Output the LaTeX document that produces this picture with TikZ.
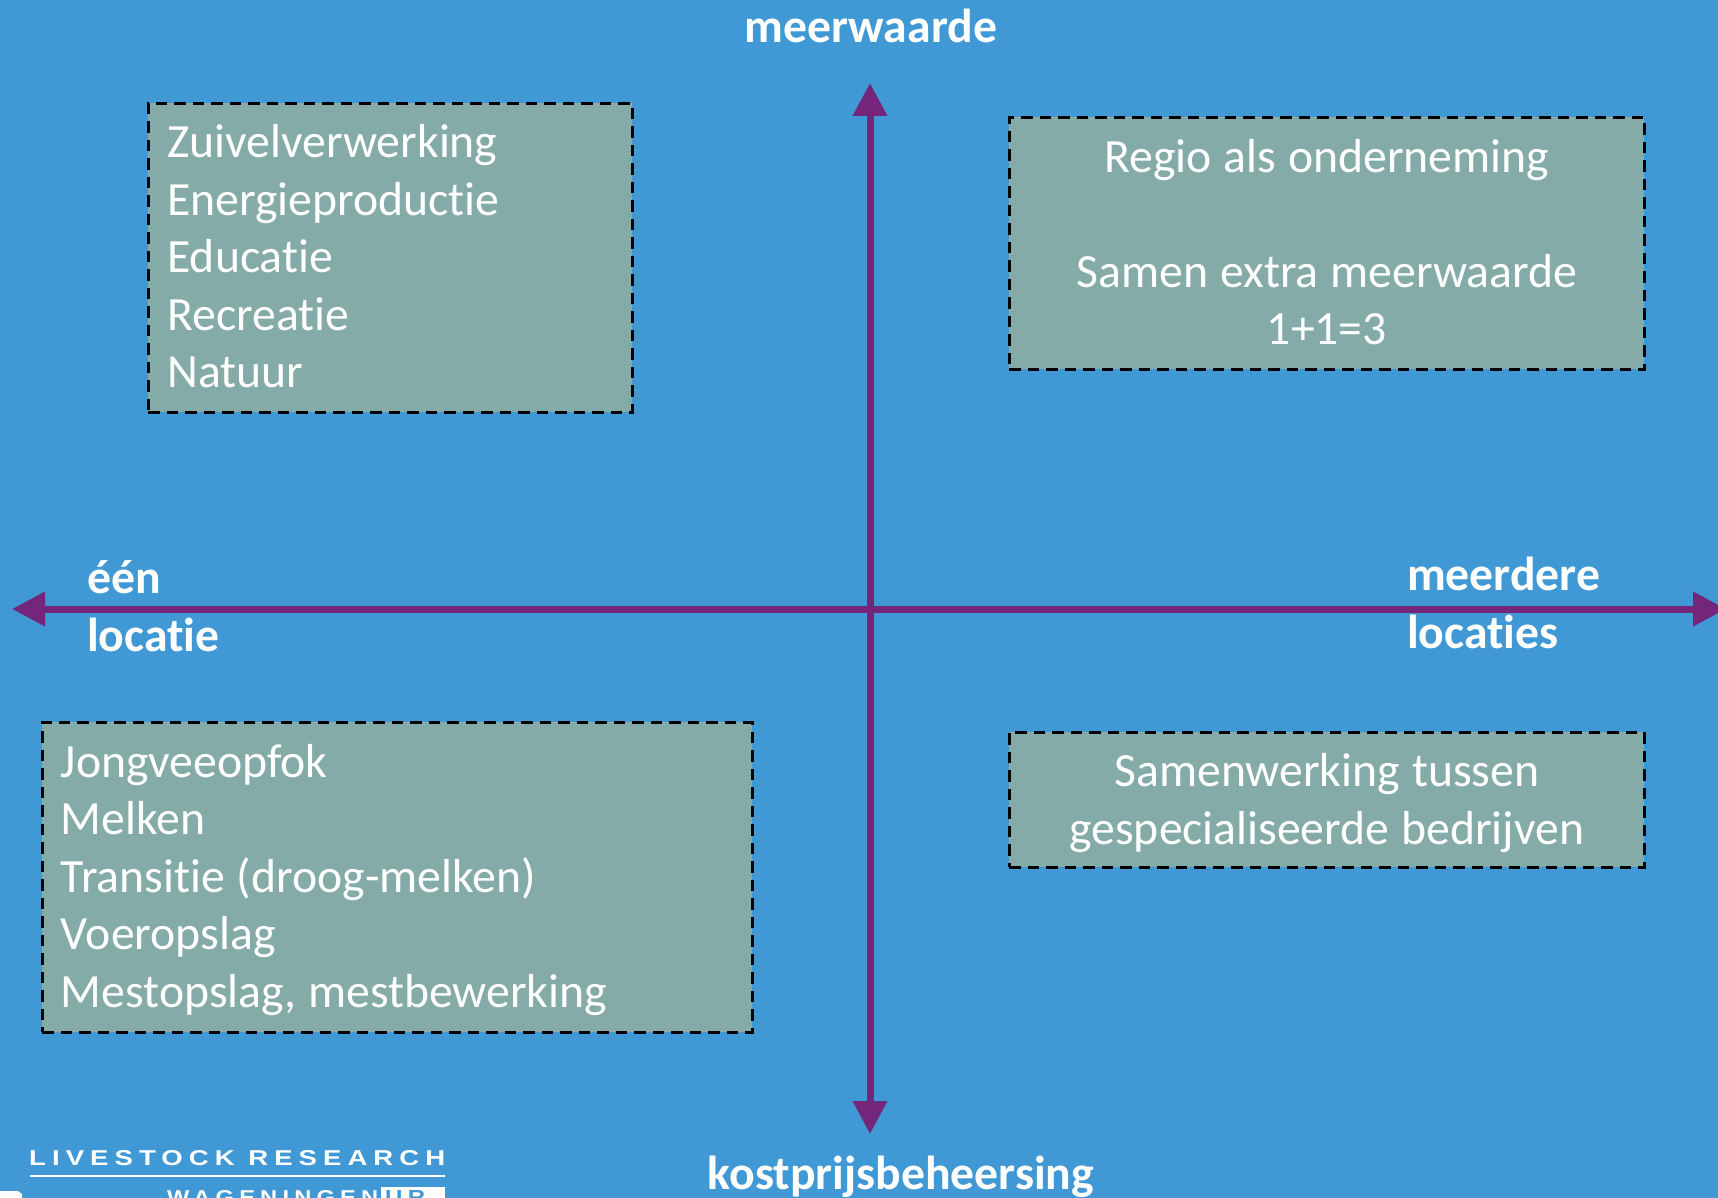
\documentclass[tikz,border=0pt]{standalone}
\usepackage{fontspec}
\setmainfont{Carlito}[Ligatures=NoCommon]
\newfontfamily\logofont[LetterSpace=22]{Liberation Sans Bold}
\usetikzlibrary{arrows.meta}
\definecolor{bgblue}{HTML}{4099D5}
\definecolor{boxgreen}{HTML}{85ABA8}
\definecolor{axispurple}{HTML}{74267A}
\newcommand\topstrut{\rule{0pt}{43.5pt}}
\newcommand\botstrut{\rule[-13.4pt]{0pt}{13.4pt}}
\newcommand\tightspaces{\setlength{\spaceskip}{12pt}}
\tikzset{
  quadbox/.style={draw=black,fill=boxgreen,line width=2.7pt,dash pattern=on 11.5pt off 7pt,
    text=white,font=\fontsize{47.7}{57.5}\selectfont,inner sep=0pt,anchor=north west},
  axisline/.style={draw=axispurple,line width=7pt,-{Triangle[width=33pt,length=33pt,fill=axispurple]}},
  axislabel/.style={text=white,font=\fontsize{47.7}{57.5}\selectfont\bfseries,inner sep=0pt},
  logolabel/.style={anchor=base west,inner sep=0pt,text=white},
}
\begin{document}
\begin{tikzpicture}[x=1pt,y=-1pt]
\useasboundingbox (0,0) rectangle (1718,1198);
\clip (0,0) rectangle (1718,1198);
\fill[bgblue] (0,0) rectangle (1718,1198);
% axes
\coordinate (centre) at (870,609);
\coordinate (top) at (870,83);
\coordinate (bottom) at (870,1134);
\coordinate (left) at (12,609);
\coordinate (right) at (1726,609);
\draw[axisline] (centre) -- (top);
\draw[axisline] (centre) -- (bottom);
\draw[axisline] (centre) -- (left);
\draw[axisline] (centre) -- (right);
% boxes
\node[quadbox,minimum width=484pt,minimum height=309pt,text width=446pt,align=left] (zuivel) at (147,102)
  {\topstrut Zuivelverwerking\\Energieproductie\\Educatie\\Recreatie\\Natuur\botstrut};
\node[quadbox,minimum width=635pt,minimum height=252pt,text width=635pt,align=center] (regio) at (1008,116)
  {\tightspaces\topstrut Regio als onderneming\\[57.5pt]Samen extra meerwaarde\\1+1=3\botstrut};
\node[quadbox,minimum width=710pt,minimum height=310pt,text width=673pt,align=left] (jongvee) at (41,721)
  {\tightspaces\topstrut Jongveeopfok\\Melken\\Transitie (droog-melken)\\Voeropslag\\Mestopslag, mestbewerking\botstrut};
\node[quadbox,minimum width=635pt,minimum height=135pt,text width=635pt,align=center] (samen) at (1008,731)
  {\tightspaces\rule{0pt}{43pt}Samenwerking tussen\\gespecialiseerde bedrijven\rule[-11.5pt]{0pt}{11.5pt}};
% axis labels
\node[axislabel,anchor=base] (meerwaarde) at (871,43) {meerwaarde};
\node[axislabel,anchor=base] (kostprijs) at (901,1189) {kostprijsbeheersing};
\node[axislabel,anchor=base west] (een) at (87,593) {één};
\node[axislabel,anchor=base west] (locatie) at (87,651) {locatie};
\node[axislabel,anchor=base west] (meerdere) at (1407,590) {meerdere};
\node[axislabel,anchor=base west] (locaties) at (1407,648) {locaties};
% logo
\node[logolabel] (lr) at (29,1165) {\resizebox{416pt}{15pt}{\logofont LIVESTOCK RESEARCH}};
\draw[white,line width=2.2pt] (30,1176) -- (445,1176);
\node[logolabel] (wag) at (167,1204) {\resizebox{211pt}{14pt}{\logofont WAGENINGEN}};
\node[anchor=north west,inner sep=0pt,fill=white,minimum width=64pt,minimum height=14pt] (urbox) at (381,1187) {};
\node[logolabel,text=bgblue] (ur) at (385,1204) {\resizebox{40pt}{14pt}{\logofont UR}};
\fill[white] (0,1191) -- (18,1191) -- (22,1194) -- (22,1198) -- (0,1198) -- cycle;
\end{tikzpicture}
\end{document}
